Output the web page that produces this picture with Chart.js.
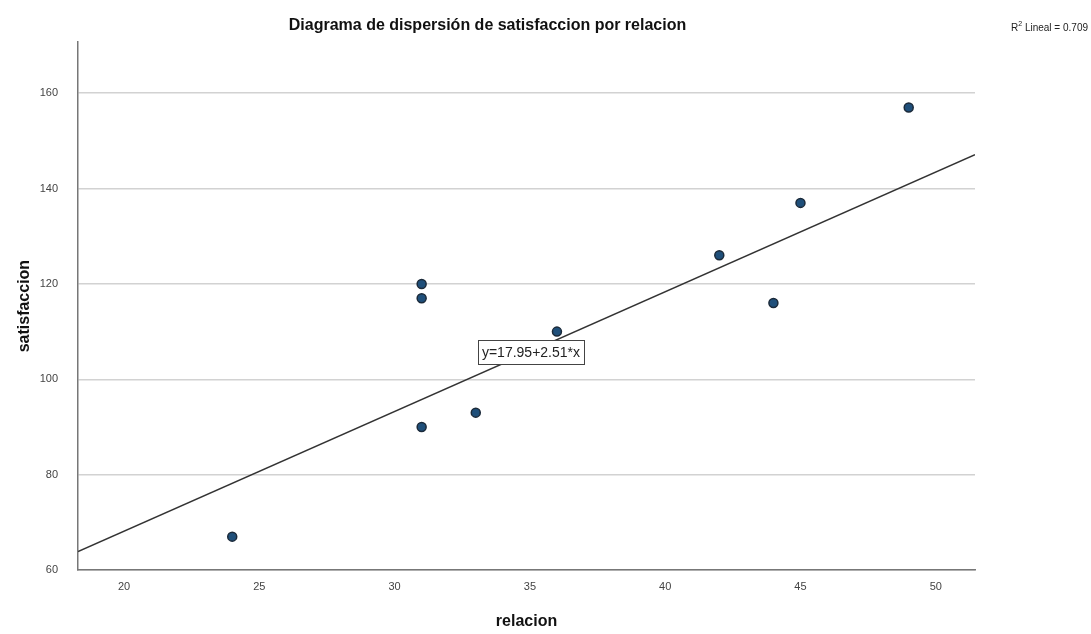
<!DOCTYPE html>
<html>
<head>
<meta charset="utf-8">
<script src="https://cdn.jsdelivr.net/npm/chart.js@4.4.1/dist/chart.umd.min.js"></script>
<style>
  html, body { margin: 0; padding: 0; background: #fff; }
  #wrap { width: 1091px; height: 634px; }
</style>
</head>
<body>
<div id="wrap"><canvas id="myChart"></canvas></div>
<script>
// datos
const relacion = [24, 31, 31, 31, 33, 36, 42, 44, 45, 49];
const satisfaccion = [67, 120, 117, 90, 93, 110, 126, 116, 137, 157];
const xTicks = [20, 25, 30, 35, 40, 45, 50];
const yTicks = [60, 80, 100, 120, 140, 160];
const intercept = 17.95;
const slope = 2.51;
const r2 = 0.709;

const xMin = 18.3, xMax = 51.45;
const yMin = 60, yMax = 170.7;

const puntos = relacion.map((x, i) => ({ x: x, y: satisfaccion[i] }));
const recta = [
  { x: xMin, y: intercept + slope * xMin },
  { x: xMax, y: intercept + slope * xMax }
];

const labelsPlugin = {
  id: 'labelsPlugin',
  afterDraw(chart) {
    const c = chart.ctx;
    const xs = chart.scales.x, ys = chart.scales.y;
    // caja de la ecuacion
    const txt = 'y=' + intercept.toFixed(2) + '+' + slope.toFixed(2) + '*x';
    c.save();
    c.font = '14px Arial, "Liberation Sans", sans-serif';
    const w = c.measureText(txt).width + 8;
    const h = 24;
    const cx = xs.getPixelForValue(35.04);
    const cy = ys.getPixelForValue(105.7);
    c.fillStyle = '#fff';
    c.fillRect(cx - w / 2, cy - h / 2, w, h);
    c.strokeStyle = '#444';
    c.lineWidth = 1;
    c.strokeRect(Math.round(cx - w / 2) + 0.5, Math.round(cy - h / 2) + 0.5, Math.round(w), h);
    c.fillStyle = '#222';
    c.textAlign = 'center';
    c.textBaseline = 'middle';
    c.fillText(txt, cx, cy + 1);

    // R2 lineal
    const rest = ' Lineal = ' + r2.toFixed(3);
    c.font = '10px Arial, "Liberation Sans", sans-serif';
    const rw = c.measureText(rest).width;
    const Rw = c.measureText('R').width;
    c.font = '7px Arial, "Liberation Sans", sans-serif';
    const sw = c.measureText('2').width;
    const right = 1088;
    let x0 = right - rw - sw - Rw;
    c.textAlign = 'left';
    c.textBaseline = 'alphabetic';
    c.fillStyle = '#222';
    c.font = '10px Arial, "Liberation Sans", sans-serif';
    c.fillText('R', x0, 31);
    c.font = '7px Arial, "Liberation Sans", sans-serif';
    c.fillText('2', x0 + Rw, 26);
    c.font = '10px Arial, "Liberation Sans", sans-serif';
    c.fillText(rest, x0 + Rw + sw, 31);
    c.restore();
  }
};

var ctx = document.getElementById('myChart');
var myChart = new Chart(ctx, {
  type: 'scatter',
  data: {
    datasets: [{
      label: 'satisfaccion',
      data: puntos,
      backgroundColor: '#1f4f7a',
      borderColor: '#1b2a3a',
      borderWidth: 1.5,
      pointRadius: 4.5,
      order: 0
    }, {
      type: 'line',
      label: 'Lineal',
      data: recta,
      borderColor: '#333',
      borderWidth: 1.5,
      pointRadius: 0,
      fill: false,
      order: 1
    }]
  },
  options: {
    responsive: true,
    maintainAspectRatio: false,
    animation: false,
    layout: { padding: { left: 0, right: 116, top: 0, bottom: 0 } },
    plugins: {
      legend: { display: false },
      tooltip: { enabled: false },
      title: {
        display: true,
        text: 'Diagrama de dispersión de satisfaccion por relacion',
        color: '#111',
        font: { family: 'Arial, "Liberation Sans", sans-serif', size: 16, weight: 'bold' },
        padding: { top: 16, bottom: 7 }
      }
    },
    scales: {
      x: {
        type: 'linear',
        min: xMin,
        max: xMax,
        afterBuildTicks: s => { s.ticks = xTicks.map(v => ({ value: v })); },
        afterFit: s => { s.height = 64; },
        grid: { display: false, drawTicks: false },
        border: { display: true, color: '#777', width: 1.5 },
        ticks: {
          padding: 10,
          color: '#444',
          font: { family: 'Arial, "Liberation Sans", sans-serif', size: 11 }
        },
        title: {
          display: true,
          text: 'relacion',
          color: '#111',
          font: { family: 'Arial, "Liberation Sans", sans-serif', size: 16, weight: 'bold' },
          padding: { top: 4, bottom: 3 }
        }
      },
      y: {
        type: 'linear',
        min: yMin,
        max: yMax,
        afterBuildTicks: s => { s.ticks = yTicks.map(v => ({ value: v })); },
        afterFit: s => { s.width = 78; },
        grid: { color: '#d2d2d2', lineWidth: 1.5, drawTicks: false },
        border: { display: true, color: '#777', width: 1.5 },
        ticks: {
          padding: 20,
          color: '#444',
          font: { family: 'Arial, "Liberation Sans", sans-serif', size: 11 }
        },
        title: {
          display: true,
          text: 'satisfaccion',
          color: '#111',
          font: { family: 'Arial, "Liberation Sans", sans-serif', size: 16, weight: 'bold' },
          padding: { top: 15, bottom: 0 }
        }
      }
    }
  },
  plugins: [labelsPlugin]
});
</script>
</body>
</html>
